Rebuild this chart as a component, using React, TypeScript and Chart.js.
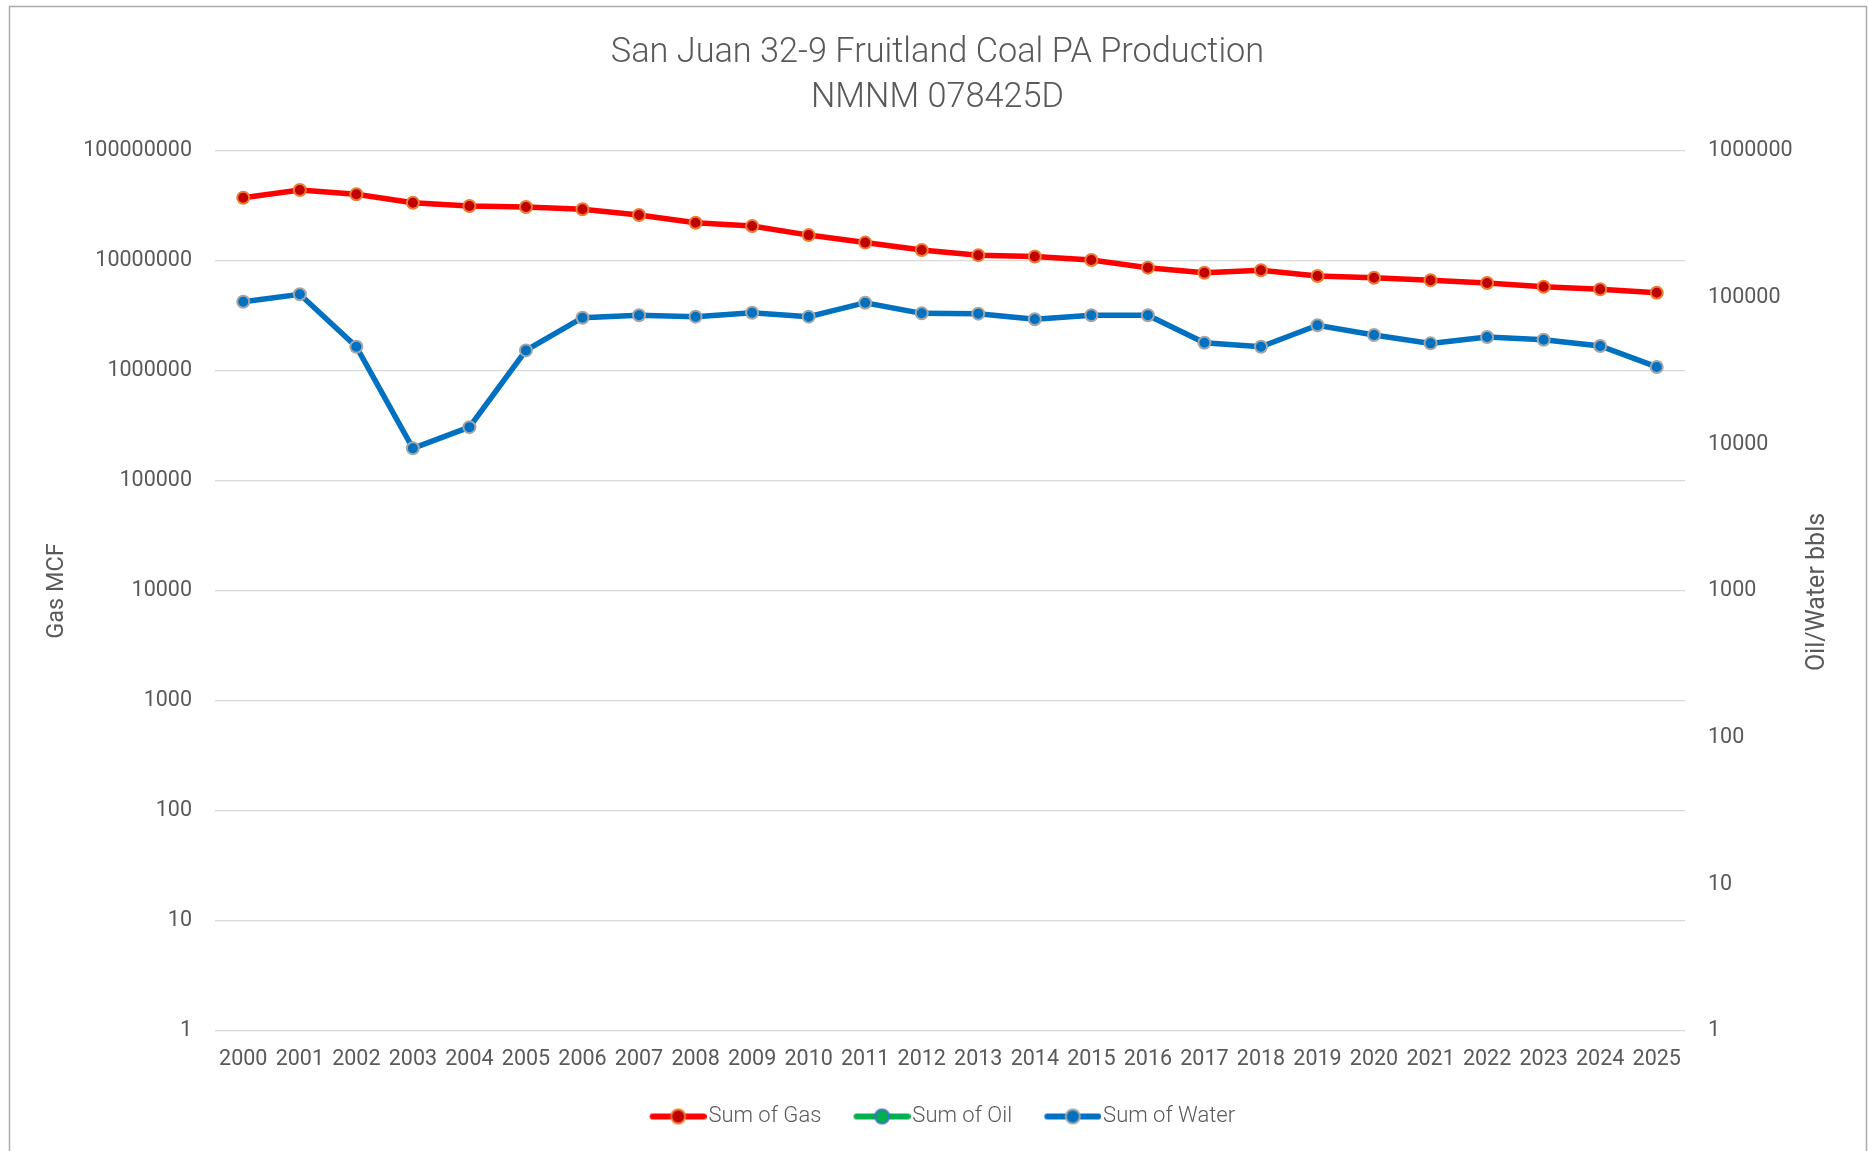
import React, { useEffect, useRef } from "react";
import { Chart, registerables } from "chart.js";

Chart.register(...registerables);

const years = [
  "2000", "2001", "2002", "2003", "2004", "2005", "2006", "2007", "2008", "2009",
  "2010", "2011", "2012", "2013", "2014", "2015", "2016", "2017", "2018", "2019",
  "2020", "2021", "2022", "2023", "2024", "2025",
];

const gasMcf = [
  37600000, 44200000, 40400000, 33900000, 31600000, 31000000, 29500000, 26200000,
  22300000, 20800000, 17200000, 14700000, 12600000, 11300000, 11000000, 10200000,
  8700000, 7830000, 8230000, 7310000, 7050000, 6680000, 6310000, 5840000, 5530000,
  5150000,
];

const oilBbls = [
  null, null, null, null, null, null, null, null, null, null, null, null, null,
  null, null, null, null, null, null, null, null, null, null, null, null, null,
];

const waterBbls = [
  93900, 105400, 46300, 9400, 13100, 43700, 73000, 75800, 74200, 78900, 74200,
  92400, 78200, 77800, 71200, 75800, 75800, 49300, 46300, 64800, 55600, 48800,
  53900, 51700, 46800, 33700,
];

const gasTicks = [1, 10, 100, 1000, 10000, 100000, 1000000, 10000000, 100000000];
const bblTicks = [1, 10, 100, 1000, 10000, 100000, 1000000];

const titleLines = ["San Juan 32-9 Fruitland Coal PA Production", "NMNM 078425D"];
const leftTitle = "Gas MCF";
const rightTitle = "Oil/Water bbls";

const FONT = "Roboto, 'Liberation Sans', Arial, sans-serif";
const TEXT = "#595959";

const seriesStyles = [
  { label: "Sum of Gas", line: "#FF0000", fill: "#C00000", border: "#ED7D31" },
  { label: "Sum of Oil", line: "#00B050", fill: "#00B050", border: "#4472C4" },
  { label: "Sum of Water", line: "#0070C0", fill: "#0070C0", border: "#A5A5A5" },
];

// legend swatch: canvas 66 wide, swatch drawn from 9 to 66
function makeSwatch(s: { line: string; fill: string; border: string }) {
  const c = document.createElement("canvas");
  c.width = 66;
  c.height = 20;
  const ctx = c.getContext("2d")!;
  const x0 = 9;
  const x1 = 66;
  ctx.strokeStyle = s.line;
  ctx.lineWidth = 6;
  ctx.lineCap = "round";
  ctx.beginPath();
  ctx.moveTo(x0 + 3, 10);
  ctx.lineTo(x1 - 3, 10);
  ctx.stroke();
  ctx.beginPath();
  ctx.arc((x0 + x1) / 2, 10, 7, 0, Math.PI * 2);
  ctx.fillStyle = s.fill;
  ctx.fill();
  ctx.lineWidth = 2;
  ctx.strokeStyle = s.border;
  ctx.stroke();
  return c;
}

export default function App() {
  const ref = useRef<HTMLCanvasElement | null>(null);

  useEffect(() => {
    if (!ref.current) return;
    const swatches = seriesStyles.map(makeSwatch);

    const framePlugin = {
      id: "frame",
      afterLayout(chart: any) {
        const l = chart.legend;
        if (l) {
          l.left += 5;
          l.right += 5;
        }
      },
      beforeDraw(chart: any) {
        const ctx = chart.ctx;
        ctx.save();
        ctx.fillStyle = "#FFFFFF";
        ctx.fillRect(0, 0, chart.width, chart.height);
        ctx.strokeStyle = "#ABABAB";
        ctx.lineWidth = 1.5;
        ctx.strokeRect(9.5, 6.5, 1857, 1170);
        ctx.restore();
      },
      afterDraw(chart: any) {
        const ctx = chart.ctx;
        const a = chart.chartArea;
        ctx.save();
        ctx.translate(1818, (a.top + a.bottom) / 2 + 1);
        ctx.rotate(-Math.PI / 2);
        ctx.font = `25px ${FONT}`;
        ctx.fillStyle = TEXT;
        ctx.textAlign = "center";
        ctx.textBaseline = "middle";
        ctx.fillText(rightTitle, 0, 0);
        ctx.restore();
      },
    };

    const mk = (i: number, data: any[], axis: string) => ({
      label: seriesStyles[i].label,
      data,
      yAxisID: axis,
      borderColor: seriesStyles[i].line,
      backgroundColor: seriesStyles[i].line,
      borderWidth: 5.5,
      pointRadius: 6,
      pointHoverRadius: 6,
      pointBackgroundColor: seriesStyles[i].fill,
      pointBorderColor: seriesStyles[i].border,
      pointBorderWidth: 2,
      tension: 0,
      fill: false,
    });

    const chart = new Chart(ref.current, {
      type: "line",
      data: {
        labels: years,
        datasets: [mk(0, gasMcf, "y"), mk(1, oilBbls, "y1"), mk(2, waterBbls, "y1")],
      },
      plugins: [framePlugin],
      options: {
        animation: false,
        responsive: false,
        maintainAspectRatio: false,
        layout: { padding: { left: 6, right: 0, top: 0, bottom: 13.5 } },
        plugins: {
          tooltip: { enabled: false },
          title: {
            display: true,
            text: titleLines,
            color: TEXT,
            font: { family: FONT, size: 34.3, weight: "300", lineHeight: 45 / 34.3 },
            padding: { top: 30.5, bottom: 30.5 },
          },
          legend: {
            display: true,
            position: "bottom",
            labels: {
              usePointStyle: true,
              pointStyleWidth: 47.5,
              boxHeight: 21,
              padding: 32.5,
              color: TEXT,
              font: { family: FONT, size: 22, weight: "300" },
              generateLabels: () =>
                seriesStyles.map((s, i) => ({
                  text: s.label,
                  pointStyle: swatches[i],
                  fillStyle: "transparent",
                  strokeStyle: "transparent",
                  lineWidth: 0,
                  hidden: false,
                  datasetIndex: i,
                  fontColor: TEXT,
                })),
            },
          },
        },
        scales: {
          x: {
            type: "category",
            offset: true,
            afterFit: (s: any) => {
              s.height = 42;
            },
            grid: { display: false, drawTicks: false },
            border: { display: false },
            ticks: {
              color: TEXT,
              font: { family: FONT, size: 21.5 },
              padding: 16,
              maxRotation: 0,
              autoSkip: false,
            },
          },
          y: {
            type: "logarithmic",
            position: "left",
            min: 1,
            max: 100000000,
            afterFit: (s: any) => {
              s.width = 209;
            },
            afterBuildTicks: (s: any) => {
              s.ticks = gasTicks.map((v) => ({ value: v }));
            },
            grid: { color: "#D9D9D9", lineWidth: 1.25, drawTicks: false },
            border: { display: false },
            ticks: {
              color: TEXT,
              font: { family: FONT, size: 21.5 },
              padding: 23,
              callback: (v: any) => String(v),
            },
            title: {
              display: true,
              text: leftTitle,
              color: TEXT,
              font: { family: FONT, size: 23.5 },
              padding: { top: 37, bottom: 0 },
            },
          },
          y1: {
            type: "logarithmic",
            position: "right",
            min: 1,
            max: 1000000,
            afterFit: (s: any) => {
              s.width = 184;
            },
            afterBuildTicks: (s: any) => {
              s.ticks = bblTicks.map((v) => ({ value: v }));
            },
            grid: { drawOnChartArea: false, drawTicks: false },
            border: { display: false },
            ticks: {
              color: TEXT,
              font: { family: FONT, size: 21.5 },
              padding: 23,
              callback: (v: any) => String(v),
            },
          },
        },
      } as any,
    });

    return () => chart.destroy();
  }, []);

  return (
    <div style={{ position: "absolute", left: 0, top: 0, width: 1869, height: 1151 }}>
      <canvas ref={ref} width={1869} height={1151} style={{ display: "block" }} />
    </div>
  );
}
